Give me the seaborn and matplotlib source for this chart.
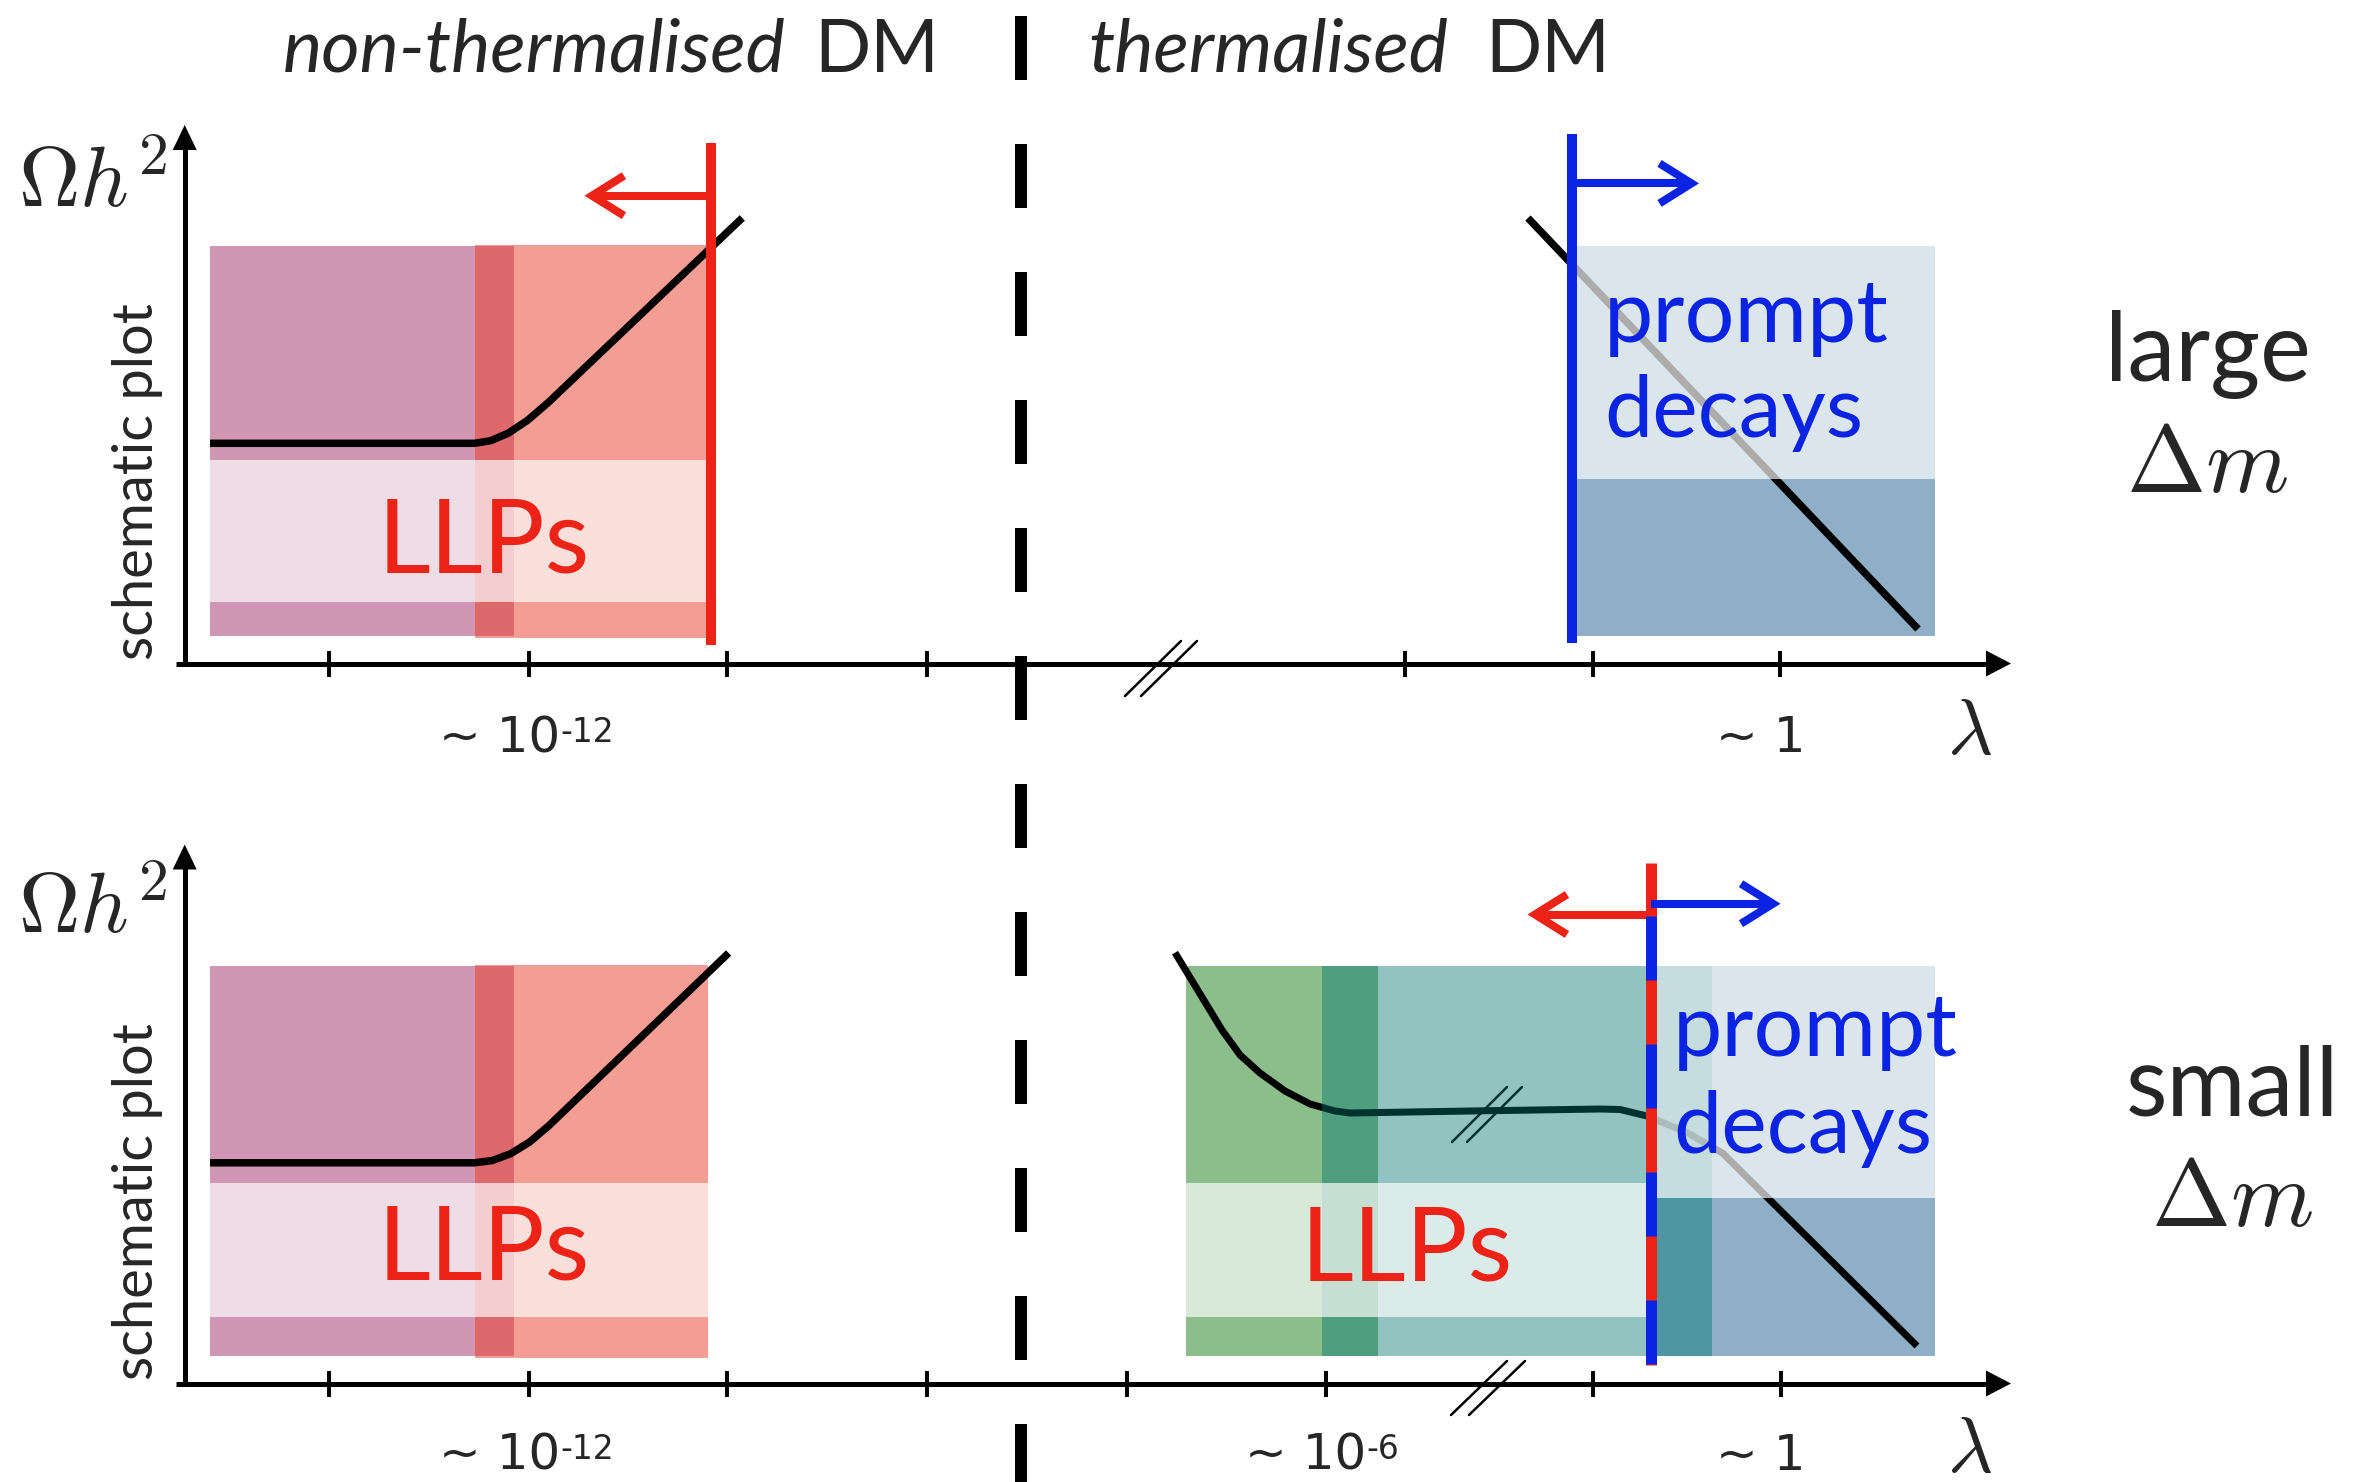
import matplotlib
matplotlib.use("Agg")
import matplotlib.pyplot as plt
import seaborn as sns

sns.set_theme(style="white")
plt.rcParams["font.family"] = ["Lato", "DejaVu Sans"]
plt.rcParams["mathtext.fontset"] = "cm"

W, H = 2364, 1482
PT = 0.72  # canvas pixels -> points at 100 dpi

# ---------------- schematic content (canvas units, y grows downward) ----------------
# relic abundance curves  Omega h^2 (lambda)
top_left_lam = [210, 474.5, 490.7, 508.4, 527.7, 548.5, 742.3]
top_left_omega = [443.3, 443.3, 440.7, 433.1, 420.2, 402.3, 217.9]
top_right_lam = [1528, 1918]
top_right_omega = [218, 629]
bot_left_lam = [210, 474.5, 492.5, 510.8, 529.5, 548.5, 728.6]
bot_left_omega = [1162.8, 1162.8, 1160.5, 1153.6, 1142.1, 1126, 953]
bot_right_lam = [1175, 1222, 1240, 1260, 1285, 1310, 1335, 1350, 1470, 1600, 1620, 1647, 1687, 1723, 1917]
bot_right_omega = [952.7, 1030, 1055, 1073, 1091, 1104, 1111, 1113, 1111, 1109, 1109.5, 1116, 1132.5, 1153.5, 1346]

# panel frames
panel_axis_y = [663.5, 1383.5]
panel_top_y = [125, 844.5]
yaxis_x = 184.7
xaxis_start, xaxis_end = 176, 2011
top_ticks = [328.9, 528.8, 727.3, 926.6, 1404.5, 1593, 1780]
bot_ticks = [328.9, 528.8, 727.3, 926.6, 1126.5, 1325.7, 1593, 1781]
axis_breaks = [(1125, 1141, 696, 641), (1451, 1469, 1415, 1361)]
curve_break = (1452, 1467, 1142, 1087)

# shaded regions: (left, right, top, bottom)
freezein_top = (210, 514, 246, 636)
superweak_top = (474.5, 707, 245, 637.5)
prompt_top = (1574, 1935, 246, 636)
freezein_bot = (210, 514, 966, 1356)
superweak_bot = (474.5, 708, 965, 1357.5)
conversion_bot = (1185.7, 1378, 966, 1356)
coannihil_bot = (1321.7, 1711.7, 966, 1356)
prompt_bot = (1651, 1935, 966, 1356)
# pale bands marking the LLP window and the prompt window
llp_band_top = (210, 707, 460, 602)
prompt_band_top = (1574, 1935, 246, 479)
llp_band_bot_left = (210, 708, 1183, 1317)
llp_band_bot_right = (1185.7, 1651, 1183, 1317)
prompt_band_bot = (1651, 1935, 966, 1198)

# lifetime boundaries and arrows
llp_bound_top = (711, 143, 645)
prompt_bound_top = (1571.5, 134, 643)
mixed_bound_bot = (1651, 863, 1365)
arrow_llp_top = (711, 592, 195.7)
arrow_prompt_top = (1571.5, 1691.5, 183.4)
arrow_llp_bot = (1651, 1535, 914.5)
arrow_prompt_bot = (1651, 1773, 903.7)
divider_x = 1021

tick_labels = [("~ 10", "-12", 560, 752.7), ("~ 10", "-12", 560, 1470),
               ("~ 10", "-6", 1366, 1470), ("~ 1", "", 1805, 752), ("~ 1", "", 1805, 1470)]

RED = "#EC2316"
BLUE = "#0B23E3"
PURPLE = "#A32F6B"
SALMON = "#EB3F29"
GREEN = "#1B7F19"
STEEL = "#1F618F"
TEAL = "#007671"

fig = plt.figure(figsize=(W / 100, H / 100), dpi=100)
ax = fig.add_axes([0, 0, 1, 1])
ax.set_xlim(0, W)
ax.set_ylim(H, 0)
ax.axis("off")


def region(r, color, alpha, z):
    x0, x1, y0, y1 = r
    ax.bar(x0, y1 - y0, width=x1 - x0, bottom=y0, align="edge",
           color=color, alpha=alpha, linewidth=0, zorder=z)


def curve(xs, ys, z=3, lw=7.5, color="black"):
    sns.lineplot(x=xs, y=ys, sort=False, estimator=None, color=color,
                 linewidth=lw * PT, ax=ax, zorder=z, legend=False,
                 solid_capstyle="butt", solid_joinstyle="round")


def chevron(x_from, x_tip, y, color):
    d = 1 if x_tip > x_from else -1
    ax.plot([x_from, x_tip], [y, y], color=color, lw=8 * PT, zorder=6,
            solid_capstyle="butt")
    ax.plot([x_tip - d * 32, x_tip, x_tip - d * 32], [y - 20, y, y + 20],
            color=color, lw=8 * PT, zorder=6, solid_joinstyle="miter",
            solid_capstyle="butt")


# ---------------- upper panel ----------------
region(freezein_top, PURPLE, 0.5, 1)
region(superweak_top, SALMON, 0.51, 1.1)
region(prompt_top, STEEL, 0.5, 1)
curve(top_left_lam, top_left_omega)
curve(top_right_lam, top_right_omega)
region(llp_band_top, "white", 0.68, 5)
region(prompt_band_top, "white", 0.68, 5)

# ---------------- lower panel ----------------
region(freezein_bot, PURPLE, 0.5, 1)
region(superweak_bot, SALMON, 0.51, 1.1)
region(conversion_bot, GREEN, 0.5, 1)
region(prompt_bot, STEEL, 0.5, 1)
curve(bot_left_lam, bot_left_omega)
curve(bot_right_lam, bot_right_omega, lw=7)
bx0, bx1, by0, by1 = curve_break
for dx in (0, bx1 - bx0):
    ax.plot([bx0 + dx, bx0 + dx + 55], [by0, by1], color="black", lw=2.5 * PT, zorder=3)
region(coannihil_bot, TEAL, 0.43, 4)
region(llp_band_bot_left, "white", 0.68, 5)
region(llp_band_bot_right, "white", 0.68, 5)
region(prompt_band_bot, "white", 0.68, 5)

# ---------------- boundaries and arrows ----------------
x, y0, y1 = llp_bound_top
ax.plot([x, x], [y0, y1], color=RED, lw=10 * PT, zorder=6, solid_capstyle="butt")
x, y0, y1 = prompt_bound_top
ax.plot([x, x], [y0, y1], color=BLUE, lw=10 * PT, zorder=6, solid_capstyle="butt")
x, y0, y1 = mixed_bound_bot
ax.plot([x, x], [y0, y1], color=RED, lw=11 * PT, zorder=6, solid_capstyle="butt")
dash = 64 * PT / (11 * PT)
ax.plot([x, x], [916, y1], color=BLUE, lw=11 * PT, zorder=6.1,
        linestyle=(0, (dash, dash)), dash_capstyle="butt")
for a, c in ((arrow_llp_top, RED), (arrow_prompt_top, BLUE),
             (arrow_llp_bot, RED), (arrow_prompt_bot, BLUE)):
    chevron(a[0], a[1], a[2], c)

# thermalised / non-thermalised divider
dash = 64 * PT / (12 * PT)
ax.plot([divider_x, divider_x], [16, H + 60], color="black", lw=12 * PT,
        linestyle=(0, (dash, dash)), dash_capstyle="butt", zorder=7)

# ---------------- axes ----------------
for ay, ty, ticks in zip(panel_axis_y, panel_top_y, [top_ticks, bot_ticks]):
    ax.plot([xaxis_start, xaxis_end - 20], [ay, ay], color="black", lw=5 * PT, zorder=8,
            solid_capstyle="butt")
    ax.plot([yaxis_x, yaxis_x], [ay + 2.5, ty + 20], color="black", lw=5 * PT, zorder=8,
            solid_capstyle="butt")
    ax.fill([xaxis_end, xaxis_end - 25, xaxis_end - 25], [ay, ay - 13, ay + 13],
            color="black", lw=0, zorder=8)
    ax.fill([yaxis_x, yaxis_x - 12, yaxis_x + 12], [ty, ty + 25, ty + 25],
            color="black", lw=0, zorder=8)
    for t in ticks:
        ax.plot([t, t], [ay - 13, ay + 13], color="black", lw=4 * PT, zorder=8,
                solid_capstyle="butt")
for xa, xb, ya, yb in axis_breaks:
    for dx in (0, xb - xa):
        ax.plot([xa + dx, xa + dx + 56], [ya, yb], color="black", lw=2.5 * PT, zorder=8)

# ---------------- text ----------------
NARROW = ["Liberation Sans Narrow", "DejaVu Sans"]
for main, sup, xr, yb in tick_labels:
    ax.text(xr, yb, main, ha="right", va="baseline", fontsize=50 * PT,
            family=NARROW, zorder=9)
    if sup:
        ax.text(xr, yb - 11, sup, ha="left", va="baseline", fontsize=33 * PT,
                family=NARROW, zorder=9)

for yb in (754, 1472):
    ax.text(1947, yb, r"$\lambda$", ha="left", va="baseline", fontsize=78 * PT, zorder=9)
for yb in (207, 933):
    ax.text(18, yb, r"$\Omega h^2$", ha="left", va="baseline", fontsize=85 * PT, zorder=9)
for yc in (481.5, 1202):
    ax.text(137.5, yc, "schematic plot", rotation=90, ha="center", va="center",
            fontsize=56 * PT, zorder=9)

for xc, yb in ((483.5, 572.6), (483.5, 1280), (1406.7, 1280.7)):
    ax.text(xc, yb, "LLPs", color=RED, ha="center", va="baseline", fontsize=103 * PT, zorder=9)
for xl, y_a, y_b in ((1604, 342, 437), (1673, 1056, 1153)):
    ax.text(xl, y_a, "prompt", color=BLUE, ha="left", va="baseline", fontsize=88 * PT, zorder=9)
    ax.text(xl, y_b, "decays", color=BLUE, ha="left", va="baseline", fontsize=86 * PT, zorder=9)

ax.text(2208, 381, "large", ha="center", va="baseline", fontsize=96 * PT, zorder=9)
ax.text(2207, 492, r"$\Delta m$", ha="center", va="baseline", fontsize=95 * PT, zorder=9)
ax.text(2232, 1115.5, "small", ha="center", va="baseline", fontsize=96 * PT, zorder=9)
ax.text(2232, 1226, r"$\Delta m$", ha="center", va="baseline", fontsize=95 * PT, zorder=9)

HEAD = 74 * PT
ax.text(786, 71.7, "non-thermalised", style="italic", ha="right", va="baseline",
        fontsize=HEAD, zorder=9)
ax.text(814, 71.7, "DM", ha="left", va="baseline", fontsize=HEAD, zorder=9)
ax.text(1088, 71.7, "thermalised", style="italic", ha="left", va="baseline",
        fontsize=HEAD, zorder=9)
ax.text(1485, 71.7, "DM", ha="left", va="baseline", fontsize=HEAD, zorder=9)

fig.savefig("out.png", dpi=100, facecolor="white")
